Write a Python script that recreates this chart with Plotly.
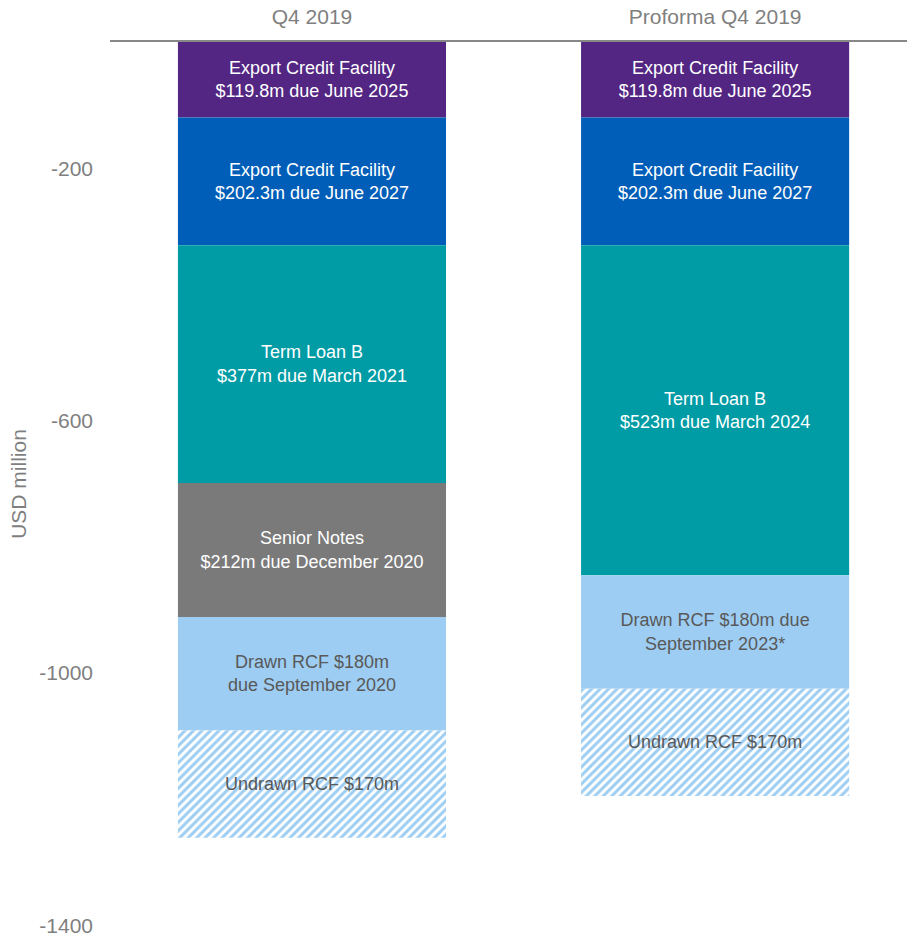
import plotly.graph_objects as go

categories = ["Q4 2019", "Proforma Q4 2019"]

ecf_2025 = [-119.8, -119.8]
ecf_2027 = [-202.3, -202.3]
term_loan_b = [-377, -523]
senior_notes = [-212, None]
drawn_rcf = [-180, -180]
undrawn_rcf = [-170, -170]

ecf_2025_labels = ["Export Credit Facility<br>$119.8m due June 2025"] * 2
ecf_2027_labels = ["Export Credit Facility<br>$202.3m due June 2027"] * 2
tlb_labels = ["Term Loan B<br>$377m due March 2021", "Term Loan B<br>$523m due March 2024"]
notes_labels = ["Senior Notes<br>$212m due December 2020", ""]
drawn_labels = ["Drawn RCF $180m<br>due September 2020", "Drawn RCF $180m due<br>September 2023*"]
undrawn_labels = ["Undrawn RCF $170m"] * 2

tick_vals = [-200, -600, -1000, -1400]
tick_text = ["-200", "-600", "-1000", "-1400"]

FONT = "Liberation Sans, Arial, sans-serif"
AXIS_GRAY = "#7f7f7f"
DARK_TEXT = "#595959"

series = [
    ("ECF 2025", ecf_2025, ecf_2025_labels, "#532683", "white", None),
    ("ECF 2027", ecf_2027, ecf_2027_labels, "#005EB8", "white", None),
    ("Term Loan B", term_loan_b, tlb_labels, "#009CA6", "white", None),
    ("Senior Notes", senior_notes, notes_labels, "#7A7A7A", "white", None),
    ("Drawn RCF", drawn_rcf, drawn_labels, "#9DCDF2", DARK_TEXT, None),
    ("Undrawn RCF", undrawn_rcf, undrawn_labels, "#9DCDF2", DARK_TEXT, "/"),
]

fig = go.Figure()
for name, vals, labels, color, tcolor, pattern in series:
    marker = dict(color=color, line=dict(width=0))
    if pattern:
        marker["pattern"] = dict(shape=pattern, fillmode="replace", bgcolor="white",
                                 fgcolor=color, size=6, solidity=0.5)
    fig.add_trace(go.Bar(
        x=categories, y=vals, name=name, text=labels,
        textposition="inside", insidetextanchor="middle", textangle=0,
        textfont=dict(family=FONT, size=18, color=tcolor),
        marker=marker, width=0.665, hoverinfo="skip",
    ))

fig.update_layout(
    barmode="relative",
    width=907, height=936,
    margin=dict(l=110, r=0, t=42, b=10),
    paper_bgcolor="white", plot_bgcolor="white",
    showlegend=False,
    font=dict(family=FONT, color=AXIS_GRAY, size=21),
    xaxis=dict(
        side="top", range=[-0.501, 1.476], showline=True, linecolor="#888888",
        linewidth=2, showgrid=False, ticks="", ticklabelstandoff=8, automargin=False,
        tickfont=dict(size=21, color=AXIS_GRAY),
    ),
    yaxis=dict(
        range=[-1401, 0], tickvals=tick_vals, ticktext=tick_text,
        showgrid=False, zeroline=False, showline=False, ticks="", automargin=False,
        ticklabelstandoff=16, ticklabeloverflow="allow",
        tickfont=dict(size=21, color=AXIS_GRAY),
        title=dict(text="USD million", font=dict(size=21, color=AXIS_GRAY), standoff=6),
    ),
)

fig.write_html(
    "out.html",
    config={"displayModeBar": False},
    post_script="document.body.style.margin='0';document.body.style.overflow='hidden';",
)
